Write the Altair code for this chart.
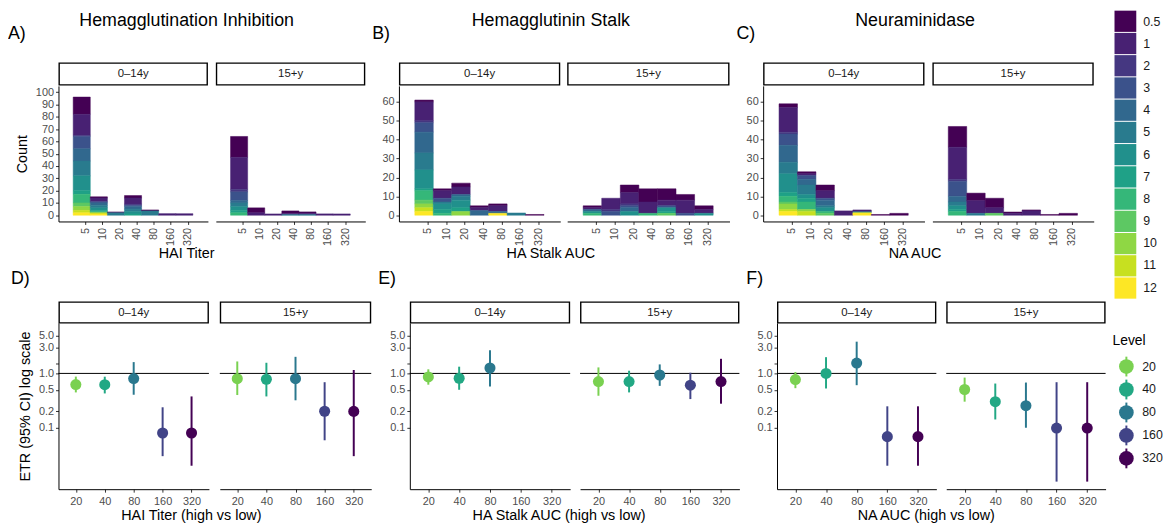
import altair as alt
import pandas as pd
import numpy as np

FONT = "Liberation Sans"

LEVELS = ["0.5", "1", "2", "3", "4", "5", "6", "7", "8", "9", "10", "11", "12"]
LEVEL_COLORS = ["#440154", "#482173", "#453781", "#3B528B", "#31688E", "#297B8E", "#21908C",
                "#1FA187", "#35B779", "#5DC863", "#8FD744", "#C7E020", "#FDE725"]
BINS = ["5", "10", "20", "40", "80", "160", "320"]
AGES = ["0–14y", "15+y"]

# stacked counts: one row per bin (5..320), columns = levels 0.5..12
HAI_0_14 = [
    [14, 17, 1, 10, 10, 12, 12, 3, 7, 3, 3, 2, 2],
    [1, 3, 0, 1, 2, 2, 2, 1, 1, 0, 0, 1, 1],
    [0.7, 0, 0, 0, 0, 2, 0, 0, 0, 0, 0, 0, 0],
    [2, 5, 1, 1, 2, 2, 2, 1, 0, 0, 0, 0, 0],
    [0.8, 0, 0, 0, 0, 3.5, 0, 0, 0, 0, 0, 0, 0],
    [0, 1.3, 0, 0, 0, 0, 0, 0, 0, 0, 0, 0, 0],
    [0, 1.3, 0, 0, 0, 0, 0, 0, 0, 0, 0, 0, 0],
]
HAI_15 = [
    [17, 26, 2, 7, 2, 3, 3, 2, 2, 0, 0, 0, 0],
    [4, 2, 0, 0, 0, 0, 0, 0, 0, 0, 0, 0, 0],
    [0, 1.1, 0, 0, 0, 0, 0, 0, 0, 0, 0, 0, 0],
    [2, 1, 0, 0, 0, 0.5, 0, 0, 0, 0, 0, 0, 0],
    [1, 1.2, 0, 0, 0, 0.5, 0, 0, 0, 0, 0, 0, 0],
    [0, 1.1, 0, 0, 0, 0, 0, 0, 0, 0, 0, 0, 0],
    [0, 1.1, 0, 0, 0, 0, 0, 0, 0, 0, 0, 0, 0],
]
HA_0_14 = [
    [1, 10, 1, 5, 11, 9, 10, 1, 5, 2, 2, 2, 2],
    [1, 4, 0, 2, 0, 1, 3, 2, 1, 0, 0, 0, 0],
    [2, 4, 0, 0, 1, 2, 4, 2, 0, 0, 2, 0, 0],
    [1, 1.5, 0, 0, 2.5, 0, 0, 0, 0, 0, 0, 0, 0],
    [1, 3, 0, 0, 1, 0, 0, 0, 0, 0, 0, 0, 1],
    [0, 0, 0, 0, 0, 1.2, 0, 0, 0, 0, 0, 0, 0],
    [0.4, 0, 0, 0, 0, 0, 0, 0, 0, 0, 0, 0, 0],
]
HA_15 = [
    [1, 1, 0, 0, 1, 0, 1, 0, 1, 0, 0, 0, 0],
    [0, 6, 1, 2, 0, 0, 0, 0, 0, 0, 0, 0, 0],
    [4, 6, 1, 1, 2, 0, 2, 0, 0, 0, 0, 0, 0],
    [7, 6, 0, 0, 0, 0, 0, 0, 1, 0, 0, 0, 0],
    [6, 3, 0, 1, 0, 0, 2, 1, 0, 1, 0, 0, 0],
    [3, 7, 0, 1, 0, 0, 0, 0, 0, 0, 0, 0, 0],
    [2, 2, 0, 0, 0, 0, 1, 0, 0, 0, 0, 0, 0],
]
NA_0_14 = [
    [2, 13, 1, 6, 9, 6, 10, 2, 3, 1, 3, 1, 2],
    [1, 1, 0, 2, 3, 5, 2, 2, 4, 0, 1, 2, 0],
    [3, 4, 0, 1, 3, 1, 2, 0, 1, 1, 0, 0, 0],
    [0, 2.3, 0, 0, 0, 0, 0, 0, 0, 0, 0, 0, 0],
    [0, 1, 0, 0, 0, 0, 0.5, 0, 0, 0, 0, 0, 1.3],
    [0.4, 0, 0, 0, 0, 0, 0, 0, 0, 0, 0, 0, 0],
    [1, 0, 0, 0, 0, 0, 0, 0, 0, 0, 0, 0, 0],
]
NA_15 = [
    [11, 17, 1, 8, 3, 2, 2, 1, 2, 0, 0, 0, 0],
    [4, 6.7, 0, 0, 0, 1, 0, 0, 0, 0, 0, 0, 0],
    [5, 3, 0, 0, 0, 0, 0, 0, 0, 1, 0, 0, 0],
    [0.7, 1, 0, 0, 0, 0, 0, 0, 0, 0, 0, 0, 0],
    [0.5, 2.3, 0, 0, 0, 0, 0, 0, 0, 0, 0, 0, 0],
    [0.4, 0, 0, 0, 0, 0, 0, 0, 0, 0, 0, 0, 0],
    [1, 0, 0, 0, 0, 0, 0, 0, 0, 0, 0, 0, 0],
]

# ETR estimates with 95% CI
ETR_LEVELS = ["20", "40", "80", "160", "320"]
ETR_COLORS = ["#7AD151", "#22A884", "#2A788E", "#414487", "#440154"]
HAI_EST_0_14 = [0.624, 0.62, 0.803, 0.080, 0.080]
HAI_LO_0_14 = [0.447, 0.428, 0.405, 0.030, 0.020]
HAI_HI_0_14 = [0.873, 0.87, 1.615, 0.238, 0.377]
HAI_EST_15 = [0.80, 0.78, 0.80, 0.201, 0.20]
HAI_LO_15 = [0.40, 0.377, 0.32, 0.0588, 0.030]
HAI_HI_15 = [1.66, 1.57, 2.02, 0.689, 1.155]
HA_EST_0_14 = [0.861, 0.814, 1.256, np.nan, np.nan]
HA_LO_0_14 = [0.62, 0.50, 0.574, np.nan, np.nan]
HA_HI_0_14 = [1.19, 1.33, 2.67, np.nan, np.nan]
HA_EST_15 = [0.708, 0.708, 0.936, 0.607, 0.708]
HA_LO_15 = [0.388, 0.447, 0.59, 0.337, 0.277]
HA_HI_15 = [1.29, 1.12, 1.465, 1.03, 1.857]
NA_EST_0_14 = [0.77, 1.0, 1.55, 0.0686, 0.0686]
NA_LO_0_14 = [0.535, 0.528, 0.607, 0.020, 0.020]
NA_HI_0_14 = [1.06, 1.99, 3.84, 0.248, 0.248]
NA_EST_15 = [0.506, 0.302, 0.255, 0.0986, 0.0986]
NA_LO_15 = [0.302, 0.142, 0.10, 0.0102, 0.0102]
NA_HI_15 = [0.838, 0.651, 0.679, 0.689, 0.689]

Y_TICKS_LOG = [0.1, 0.2, 0.5, 1.0, 1.5, 3.0, 5.0]

TOP_H = 137
BOT_H = 168
LABEL_SIZE = 18
TICK_SHIFT = 0.2


def hist_df(rows):
    recs = []
    for b, row in enumerate(rows):
        for li, v in enumerate(row):
            if v > 0:
                recs.append({"bin": b, "level": LEVELS[li], "ord": 12 - li, "count": v})
    return pd.DataFrame(recs)


def strip_layers(text, w, y0, y1):
    sdf = pd.DataFrame({"t": [text]})
    rect = alt.Chart(sdf).mark_rect(fill="white", stroke="black", strokeWidth=1.4).encode(
        x=alt.value(0.7), x2=alt.value(w - 0.7), y=alt.value(y0), y2=alt.value(y1))
    txt = alt.Chart(sdf).mark_text(fontSize=11.5, font=FONT, color="#1a1a1a").encode(
        x=alt.value(w / 2), y=alt.value((y0 + y1) / 2 + 0.5), text="t:N")
    return [rect, txt]


def label_layer(text, dx, dy):
    ldf = pd.DataFrame({"t": [text]})
    return alt.Chart(ldf).mark_text(fontSize=LABEL_SIZE, font=FONT, color="black", align="left",
                                    baseline="middle").encode(
        x=alt.value(dx), y=alt.value(dy), text="t:N")


def hist_panel(rows_pair, ydom, ymax_tick, widths, gap, label, label_dx, ytitle, title, xtitle):
    subs = []
    for k in range(2):
        w = widths[k]
        df = hist_df(rows_pair[k])
        yaxis = alt.Axis(values=list(range(0, ymax_tick + 1, 10)), title=ytitle,
                         titlePadding=6) if k == 0 else None
        lvl_scale = alt.Scale(domain=LEVELS, range=LEVEL_COLORS)
        bars = alt.Chart(df).transform_stack(
            stack="count", groupby=["bin"], as_=["y0", "y1"],
            sort=[alt.SortField("ord", order="ascending")]
        ).transform_calculate(lo="datum.bin - 0.5", hi="datum.bin + 0.5").mark_bar(
            strokeWidth=0.5, opacity=1).encode(
            x=alt.X("lo:Q", scale=alt.Scale(domain=[-1.36, 7.38], nice=False, zero=False),
                    axis=alt.Axis(values=[i + TICK_SHIFT for i in range(7)], labelAngle=270,
                                  title=None,
                                  labelExpr="['5','10','20','40','80','160','320']"
                                            "[round(datum.value - %s)]" % TICK_SHIFT,
                                  labelPadding=3)),
            x2="hi:Q",
            y=alt.Y("y0:Q", scale=alt.Scale(domain=ydom, nice=False, zero=False), axis=yaxis),
            y2="y1:Q",
            fill=alt.Fill("level:N", scale=lvl_scale, legend=None),
            stroke=alt.Stroke("level:N", scale=lvl_scale, legend=None),
        )
        layers = [bars] + strip_layers(AGES[k], w, -23, -1)
        if k == 0:
            layers.append(label_layer(label, label_dx, -52))
        subs.append(alt.layer(*layers).properties(width=w, height=TOP_H))
    inner = alt.hconcat(*subs, spacing=gap).properties(
        title=alt.TitleParams(xtitle, orient="bottom", fontSize=14.5, font=FONT,
                              fontWeight="normal", color="black", offset=2, anchor="middle"))
    return alt.vconcat(inner).properties(
        title=alt.TitleParams(title, fontSize=18, font=FONT, fontWeight="normal",
                              color="black", offset=-4, anchor="middle"))


def etr_df(est, lo, hi):
    df = pd.DataFrame({"level": ETR_LEVELS, "est": est, "lo": lo, "hi": hi})
    return df.dropna()


def etr_panel(data_pair, widths, gap, label, label_dx, ytitle, xtitle):
    subs = []
    for k in range(2):
        w = widths[k]
        df = etr_df(*data_pair[k])
        xsc = alt.Scale(type="point", domain=ETR_LEVELS, padding=0.6)
        ysc = alt.Scale(type="log", domain=[0.0074, 8.5], nice=False)
        yaxis = alt.Axis(values=Y_TICKS_LOG, format=".1f", title=ytitle,
                         titlePadding=6) if k == 0 else None
        xaxis = alt.Axis(title=None, labelAngle=0, labelPadding=3)
        col = alt.Color("level:N", scale=alt.Scale(domain=ETR_LEVELS, range=ETR_COLORS),
                        legend=None)
        hline = alt.Chart(pd.DataFrame({"v": [1.0]})).mark_rule(
            color="black", strokeWidth=1).encode(y=alt.Y("v:Q", scale=ysc, axis=yaxis))
        rules = alt.Chart(df).mark_rule(strokeWidth=2).encode(
            x=alt.X("level:N", scale=xsc, axis=xaxis),
            y=alt.Y("lo:Q", scale=ysc, axis=yaxis), y2="hi:Q", color=col)
        pts = alt.Chart(df).mark_point(filled=True, size=125, opacity=1).encode(
            x=alt.X("level:N", scale=xsc, axis=xaxis),
            y=alt.Y("est:Q", scale=ysc, axis=yaxis), color=col)
        layers = [hline, rules, pts] + strip_layers(AGES[k], w, -21, 0)
        if k == 0:
            layers.append(label_layer(label, label_dx, -44))
        subs.append(alt.layer(*layers).properties(width=w, height=BOT_H))
    return alt.hconcat(*subs, spacing=gap).properties(
        title=alt.TitleParams(xtitle, orient="bottom", fontSize=14.5, font=FONT,
                              fontWeight="normal", color="black", offset=3, anchor="middle"))


pA = hist_panel([HAI_0_14, HAI_15], [-5.06, 105.1], 100, [151, 151], 8, "A)", -51,
                "Count", "Hemagglutination Inhibition", "HAI Titer")
pB = hist_panel([HA_0_14, HA_15], [-3.3, 68.5], 60, [163, 164], 7, "B)", -27,
                None, "Hemagglutinin Stalk", "HA Stalk AUC")
pC = hist_panel([NA_0_14, NA_15], [-3.3, 68.5], 60, [163, 163], 8, "C)", -27,
                None, "Neuraminidase", "NA AUC")

pD = etr_panel([(HAI_EST_0_14, HAI_LO_0_14, HAI_HI_0_14), (HAI_EST_15, HAI_LO_15, HAI_HI_15)],
               [152, 153], 9, "D)", -48, "ETR (95% CI) log scale", "HAI Titer (high vs low)")
pE = etr_panel([(HA_EST_0_14, HA_LO_0_14, HA_HI_0_14), (HA_EST_15, HA_LO_15, HA_HI_15)],
               [162, 161], 8, "E)", -32, None, "HA Stalk AUC (high vs low)")
pF = etr_panel([(NA_EST_0_14, NA_LO_0_14, NA_HI_0_14), (NA_EST_15, NA_LO_15, NA_HI_15)],
               [161, 161], 8, "F)", -31, None, "NA AUC (high vs low)")

top = alt.hconcat(pA, pB, pC, spacing=7)
bottom = alt.hconcat(pD, pE, pF, spacing=6)
main = alt.vconcat(top, bottom, spacing=9.5)

# ---- legends drawn as one small chart (origin aligned with the first plot's top) ----
fl_df = pd.DataFrame({"level": LEVELS})
fl_y = alt.Y("level:N", scale=alt.Scale(domain=LEVELS, range=[-76, 215], paddingInner=0.045,
                                        paddingOuter=0), axis=None)
fl_rect = alt.Chart(fl_df).mark_rect(strokeWidth=0).encode(
    x=alt.value(2), x2=alt.value(24), y=fl_y,
    fill=alt.Fill("level:N", scale=alt.Scale(domain=LEVELS, range=LEVEL_COLORS), legend=None))
fl_text = alt.Chart(fl_df).mark_text(align="left", baseline="middle", fontSize=12.5, font=FONT,
                                      color="#1a1a1a").encode(
    x=alt.value(31), y=fl_y, text="level:N")

cl_df = pd.DataFrame({"level": ETR_LEVELS})
cl_y = alt.Y("level:N", scale=alt.Scale(domain=ETR_LEVELS, range=[272, 388], paddingInner=0,
                                        paddingOuter=0), axis=None)
cl_col = alt.Color("level:N", scale=alt.Scale(domain=ETR_LEVELS, range=ETR_COLORS), legend=None)
cl_tick = alt.Chart(cl_df).mark_tick(orient="vertical", size=20, thickness=2, opacity=1).encode(
    x=alt.value(14), y=cl_y, color=cl_col)
cl_pt = alt.Chart(cl_df).mark_point(filled=True, size=220, opacity=1).encode(
    x=alt.value(14), y=cl_y, color=cl_col)
cl_text = alt.Chart(cl_df).mark_text(align="left", baseline="middle", fontSize=12.5, font=FONT,
                                      color="#1a1a1a").encode(
    x=alt.value(30), y=cl_y, text="level:N")
cl_title = alt.Chart(pd.DataFrame({"t": ["Level"]})).mark_text(
    align="left", baseline="middle", fontSize=14, font=FONT, color="black").encode(
    x=alt.value(0), y=alt.value(258), text="t:N")

legends = alt.layer(fl_rect, fl_text, cl_tick, cl_pt, cl_text, cl_title).resolve_scale(
    y="independent").properties(width=24, height=10)

chart = alt.hconcat(main, legends, spacing=6).properties(padding=0).resolve_scale(
    fill="independent", color="independent"
).configure_view(
    stroke=None
).configure_axis(
    domainColor="black", domainWidth=1, tickColor="#333333", tickSize=3, tickWidth=1,
    labelColor="#4d4d4d", labelFontSize=11, labelFont=FONT, titleFont=FONT,
    titleFontSize=14.5, titleFontWeight="normal", titleColor="black", grid=False
)

chart.save("out.html", embed_options={"renderer": "svg", "actions": False})
